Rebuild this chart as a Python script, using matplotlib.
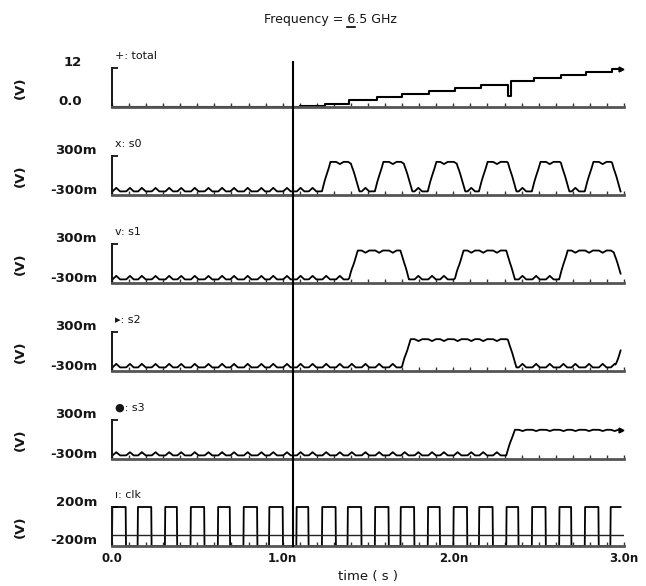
import numpy as np
import matplotlib
matplotlib.use("Agg")
import matplotlib.pyplot as plt
from matplotlib.lines import Line2D
import matplotlib.transforms as mtransforms

# ---------------- data (time in ns) ----------------
title_text = "Frequency = 6.5 GHz"
title_prefix = "Frequency = "
title_under = "6"

panel_names = ["+: total", "x: s0", "v: s1", "\u25b8: s2", "\u25cf: s3", "\u0131: clk"]
ylow_labels = ["0.0", "-300m", "-300m", "-300m", "-300m", "-200m"]
yhigh_labels = ["12", "300m", "300m", "300m", "300m", "200m"]
ylims = [(0.0, 12.0), (-0.3, 0.3), (-0.3, 0.3), (-0.3, 0.3), (-0.3, 0.3), (-0.2, 0.2)]
unit_label = "(V)"
xlabel_text = "time ( s )"
xtick_vals = [0.0, 1.0, 2.0, 3.0]
xtick_labels = ["0.0", "1.0n", "2.0n", "3.0n"]
x_minor_step = 0.1
x_end = 3.0
cursor_t = 1.06

# total : staircase (counter value)
total_t = [0.00, 1.10, 1.25, 1.39, 1.55, 1.70, 1.86, 2.01, 2.16, 2.32, 2.335, 2.47, 2.63, 2.78, 2.93, 2.98]
total_v = [0.0, 0.4, 1.0, 2.1, 3.2, 4.1, 5.0, 5.9, 6.8, 3.3, 8.0, 8.8, 9.8, 10.7, 11.8, 11.8]

# clock edges
clk_rise = [0.00, 0.15, 0.31, 0.46, 0.62, 0.77, 0.92, 1.08, 1.23, 1.38,
            1.54, 1.69, 1.85, 2.00, 2.15, 2.31, 2.46, 2.62, 2.77, 2.92]
clk_fall = [0.08, 0.23, 0.38, 0.54, 0.69, 0.85, 1.00, 1.15, 1.31, 1.46,
            1.62, 1.77, 1.92, 2.08, 2.23, 2.38, 2.54, 2.69, 2.85]
clk_hi = 0.2
clk_lo = -0.2
clk_ref = -0.085

# divided outputs
s0_rise = [1.23, 1.54, 1.85, 2.15, 2.46, 2.77]
s0_fall = [1.40, 1.71, 2.02, 2.32, 2.63, 2.93]
s1_rise = [1.39, 2.01, 2.62]
s1_fall = [1.69, 2.31, 2.94]
s2_rise = [1.70, 2.95]
s2_fall = [2.32]
s3_rise = [2.31]
s3_fall = []
s_lo = [-0.245, -0.245, -0.245, -0.245]
s_hi = [0.21, 0.20, 0.19, 0.15]
s_ripple_lo = [0.055, 0.055, 0.055, 0.05]
s_ripple_hi = [0.035, 0.035, 0.03, 0.02]
s_edge_time = 0.05

# ---------------- layout (pixels) ----------------
W, H = 646, 586
ax_left_px, ax_right_px = 112, 624
panel_base_px = [107, 195, 283, 371, 459, 546]
panel_h_px = 39

fig = plt.figure(figsize=(W / 100, H / 100), dpi=100)
fig.patch.set_facecolor("white")

FONT = "DejaVu Sans"
INK = "#151515"
axes = []
for i, base in enumerate(panel_base_px):
    ax = fig.add_axes([ax_left_px / W, 1 - base / H,
                       (ax_right_px - ax_left_px) / W, panel_h_px / H])
    ax.set_facecolor("none")
    ax.set_xlim(0, x_end)
    ax.set_ylim(*ylims[i])
    for s in ("top", "right"):
        ax.spines[s].set_visible(False)
    ax.spines["left"].set_linewidth(1.4)
    ax.spines["left"].set_color(INK)
    ax.spines["bottom"].set_linewidth(2.0)
    ax.spines["bottom"].set_color("#555555")
    ax.set_yticks([ylims[i][1]])
    ax.tick_params(axis="y", direction="in", length=4, width=1.3,
                   labelleft=False, color=INK)
    ax.set_xticks(xtick_vals)
    ax.set_xticks(np.arange(0, x_end + 1e-9, x_minor_step), minor=True)
    ax.tick_params(axis="x", which="both", direction="in", length=3,
                   width=1.0, color="#333333", labelbottom=False)
    off_hi = -30 if i == 0 else -15
    ax.annotate(yhigh_labels[i], xy=(0, 1), xycoords="axes fraction",
                xytext=(off_hi, 5), textcoords="offset pixels",
                ha="right", va="center", fontsize=9.5, fontweight="bold",
                family=FONT, color=INK)
    ax.annotate(ylow_labels[i], xy=(0, 0), xycoords="axes fraction",
                xytext=(off_hi, 5), textcoords="offset pixels",
                ha="right", va="center", fontsize=9.5, fontweight="bold",
                family=FONT, color=INK)
    ax.annotate(unit_label, xy=(0, 0.5), xycoords="axes fraction",
                xytext=(-92, 0), textcoords="offset pixels",
                ha="center", va="center", rotation=90, fontsize=9.5,
                fontweight="bold", family=FONT, color=INK)
    ax.annotate(panel_names[i], xy=(0, 1), xycoords="axes fraction",
                xytext=(3, 12), textcoords="offset pixels",
                ha="left", va="center", fontsize=8,
                family=FONT, color=INK)
    axes.append(ax)

axb = axes[-1]
axb.set_xticks(xtick_vals, labels=xtick_labels)
axb.tick_params(axis="x", which="major", labelbottom=True, pad=4,
                labelsize=8.5)
for lab in axb.get_xticklabels():
    lab.set_fontweight("bold")
    lab.set_family(FONT)
    lab.set_color(INK)
axb.set_xlabel(xlabel_text, fontsize=9.5, family=FONT, labelpad=4, color=INK)

# ---------------- traces ----------------
def edge_points(rises, falls, lo, hi, tr):
    events = sorted([(r, 1) for r in rises] + [(f, 0) for f in falls])
    xs, ys = [0.0], [lo]
    state = lo
    for t0, up in events:
        new = hi if up else lo
        xs += [t0, t0 + tr]
        ys += [state, new]
        state = new
    xs.append(x_end - 0.02)
    ys.append(state)
    return xs, ys

axes[0].plot(total_t, total_v, drawstyle="steps-post", color="black",
             lw=1.5, clip_on=False)
axes[0].plot([total_t[-1]], [total_v[-1]], marker=">", ms=3.5,
             color="black", clip_on=False)

clk_edges = sorted(clk_rise + clk_fall)
tt = np.linspace(0, x_end - 0.02, 3000)
s_rises = [s0_rise, s1_rise, s2_rise, s3_rise]
s_falls = [s0_fall, s1_fall, s2_fall, s3_fall]
for k in range(4):
    xs, ys = edge_points(s_rises[k], s_falls[k], s_lo[k], s_hi[k], s_edge_time)
    base = np.interp(tt, xs, ys)
    frac = (base - s_lo[k]) / (s_hi[k] - s_lo[k])
    rip = np.zeros_like(tt)
    for e in clk_edges:
        rip += np.clip(1 - np.abs(tt - (e + 0.025)) / 0.022, 0, None)
    wave = base + rip * (s_ripple_lo[k] * (1 - frac) - s_ripple_hi[k] * frac)
    axes[k + 1].plot(tt, wave, color="black", lw=1.3, clip_on=False)
axes[4].plot([tt[-1]], [s_hi[3]], marker=">", ms=3.5, color="black",
             clip_on=False)

cx, cy = edge_points(clk_rise, clk_fall, clk_lo, clk_hi, 0.002)
axes[5].plot(cx, cy, color="black", lw=1.3, clip_on=False)
axes[5].axhline(clk_ref, color="#222222", lw=1.0)

trans = mtransforms.blended_transform_factory(axes[0].transData, fig.transFigure)
fig.add_artist(Line2D([cursor_t, cursor_t], [1 - 62 / H, 1 - 546 / H],
                      transform=trans, color="black", lw=1.5))

title_x, title_y = 330 / W, 1 - 19 / H
t_obj = fig.text(title_x, title_y, title_text, ha="center", va="center",
                 fontsize=9, family=FONT, color=INK)
fig.canvas.draw()
r = fig.canvas.get_renderer()
bb = t_obj.get_window_extent(r)
tmp = fig.text(0, 0, title_prefix, fontsize=9, family=FONT)
w_pre = tmp.get_window_extent(r).width
tmp2 = fig.text(0, 0, title_under, fontsize=9, family=FONT)
w_6 = tmp2.get_window_extent(r).width
tmp.remove()
tmp2.remove()
x0 = bb.x0 + w_pre
fig.add_artist(Line2D([x0 / W, (x0 + w_6) / W],
                      [(bb.y0 - 1) / H, (bb.y0 - 1) / H],
                      transform=fig.transFigure, color="black", lw=1.2))

fig.savefig("out.png", dpi=100, facecolor="white")
